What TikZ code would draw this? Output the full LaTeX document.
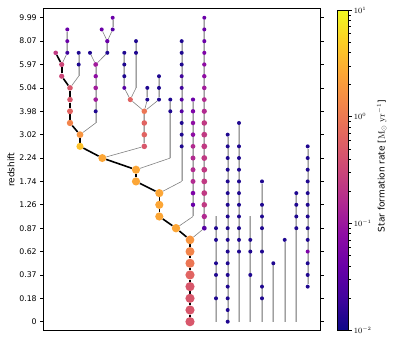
\documentclass[tikz,border=0pt]{standalone}
\usepackage[no-math]{fontspec}
\setmainfont{DejaVu Sans}
\usetikzlibrary{backgrounds}

\definecolor{pl05}{HTML}{1F0790}
\definecolor{pl10}{HTML}{41049D}
\definecolor{pl15}{HTML}{5601A4}
\definecolor{pl20}{HTML}{6A00A8}
\definecolor{pl25}{HTML}{7E03A8}
\definecolor{pl30}{HTML}{8F0DA4}
\definecolor{pl35}{HTML}{A11B9B}
\definecolor{pl40}{HTML}{B12A90}
\definecolor{pl45}{HTML}{C03A83}
\definecolor{pl50}{HTML}{CC4778}
\definecolor{pl55}{HTML}{D8576B}
\definecolor{pl60}{HTML}{E16462}
\definecolor{pl65}{HTML}{EB7655}
\definecolor{pl70}{HTML}{F2844B}
\definecolor{pl75}{HTML}{F89540}
\definecolor{pl80}{HTML}{FCA636}
\definecolor{pl88}{HTML}{FDC12A}

\pgfdeclareverticalshading{plasma}{100bp}{
  rgb(0bp)=(0.051,0.031,0.529); rgb(25bp)=(0.051,0.031,0.529);
  rgb(30bp)=(0.255,0.016,0.616); rgb(35bp)=(0.416,0,0.659);
  rgb(40bp)=(0.561,0.051,0.643); rgb(45bp)=(0.694,0.165,0.565);
  rgb(50bp)=(0.8,0.278,0.471); rgb(55bp)=(0.882,0.392,0.384);
  rgb(60bp)=(0.949,0.518,0.294); rgb(65bp)=(0.988,0.651,0.212);
  rgb(70bp)=(0.988,0.808,0.145); rgb(75bp)=(0.941,0.976,0.129);
  rgb(100bp)=(0.941,0.976,0.129)}

\tikzset{
  dot/.style={circle, inner sep=0pt, minimum size=#1bp},
  mainline/.style={line width=1.6bp, black},
  link/.style={line width=0.6bp, gray},
  trunk/.style={line width=2bp, gray!40, postaction={draw=gray!75, line width=0.4bp}},
  ticklbl/.style={font=\fontsize{7.8bp}{9bp}\selectfont},
  axislbl/.style={font=\fontsize{9bp}{10bp}\selectfont},
}

\begin{document}
\begin{tikzpicture}[x=1bp, y=11.69bp]
\useasboundingbox (0,-1.7365) rectangle (399,27.519);

\foreach \x/\k/\c/\d in {55.7/23/pl45/4.6, 61.7/22/pl50/5.2, 61.7/21/pl50/5.2, 70/20/pl55/5.6,
    70/19/pl55/5.6, 70/18/pl60/6, 70/17/pl70/6.4, 80/16/pl75/6.8, 80/15/pl88/7.2,
    102.3/14/pl80/8, 136/13/pl80/8.2, 136/12/pl80/8.2, 159.3/11/pl80/8.2, 159.3/10/pl80/8.2,
    159.3/9/pl80/8.2, 176/8/pl80/8.4, 190/7/pl75/8.8, 190/6/pl70/9, 190/5/pl65/9.2,
    190/4/pl60/9.2, 190/3/pl55/9.2, 190/2/pl55/9.2, 190/1/pl55/9.2, 190/0/pl55/9.2}
  \node[dot=\d, fill=\c] (m-\k) at (\x,\k) {};

\foreach \k/\c in {25/pl20, 24/pl20, 23/pl10}
  \node[dot=4, fill=\c] (a-\k) at (67.3,\k) {};
\foreach \k in {23,22}
  \node[dot=4, fill=pl05] (b-\k) at (78.7,\k) {};
\foreach \k/\c/\d in {22/pl35/4.8, 21/pl30/4.4, 20/pl35/4.6, 19/pl35/4.6, 18/pl05/4}
  \node[dot=\d, fill=\c] (p-\k) at (95.7,\k) {};
\node[dot=4, fill=pl05] (q-23) at (90,23) {};
\node[dot=4, fill=pl05] (r-23) at (107.3,23) {};
\node[dot=4.3, fill=pl20] (r-24) at (107.3,24) {};
\node[dot=4, fill=pl20] (s-25) at (101.7,25) {};
\node[dot=4, fill=pl15] (t-25) at (112.7,25) {};
\node[dot=4, fill=pl20] (t-26) at (112.7,26) {};

\foreach \k/\c in {18/pl65, 17/pl60, 16/pl60, 15/pl55}
  \node[dot=5.6, fill=\c] (c-\k) at (144.3,\k) {};
\node[dot=5.2, fill=pl60] (u-19) at (130.3,19) {};
\foreach \k/\c in {23/pl05, 22/pl05, 21/pl05, 20/pl15}
  \node[dot=4, fill=\c] (v-\k) at (124.3,\k) {};
\foreach \k in {24,23}
  \node[dot=4, fill=pl05] (w-\k) at (136,\k) {};
\foreach \k in {20,19}
  \node[dot=4, fill=pl05] (e1-\k) at (147.3,\k) {};
\foreach \k in {21,20,19}
  \node[dot=4, fill=pl05] (e2-\k) at (159,\k) {};

\foreach \k in {19,18}
  \node[dot=4, fill=pl05] (f1-\k) at (170.3,\k) {};
\foreach \k/\c in {24/pl05, 23/pl05, 22/pl05, 21/pl10, 20/pl10, 19/pl15, 18/pl15, 17/pl05,
    16/pl05, 15/pl05}
  \node[dot=4, fill=\c] (f2-\k) at (181.7,\k) {};
\foreach \k/\c/\d in {19/pl20/4.2, 18/pl25/4.4, 17/pl30/4.5, 16/pl30/4.6, 15/pl40/4.8,
    14/pl40/5, 13/pl40/5, 12/pl40/5, 11/pl25/4.6, 10/pl20/4.4}
  \node[dot=\d, fill=\c] (f3-\k) at (193,\k) {};
\foreach \k/\c/\d in {26/pl20/4, 25/pl20/4, 24/pl20/4.1, 23/pl25/4.1, 22/pl30/4.3,
    21/pl30/4.4, 20/pl35/4.6, 19/pl40/4.8, 18/pl40/5.2, 17/pl45/5.6, 16/pl45/5.8,
    15/pl45/5.8, 14/pl45/5.8, 13/pl45/5.8, 12/pl45/5.8, 11/pl45/5.8, 10/pl45/5.6,
    9/pl40/5.4, 8/pl15/4.8}
  \node[dot=\d, fill=\c] (f4-\k) at (204.3,\k) {};

\foreach \k in {8,7,5,4,2}
  \node[dot=4, fill=pl05] (i1-\k) at (216,\k) {};
\foreach \k in {16,15,...,0}
  \node[dot=4, fill=pl05] (i2-\k) at (227.7,\k) {};
\foreach \k in {17,15,14,13,12,11,10,9,8,7,6}
  \node[dot=4, fill=pl05] (i3-\k) at (239,\k) {};
\foreach \k in {7,6,4}
  \node[dot=4, fill=pl05] (i4-\k) at (250.3,\k) {};
\foreach \k in {12,10,9,8,6,3,2}
  \node[dot=4, fill=pl05] (i5-\k) at (262,\k) {};
\node[dot=4, fill=pl05] (i6-5) at (273.3,5) {};
\node[dot=4, fill=pl05] (i7-7) at (284.7,7) {};
\foreach \k in {11,10,9,8}
  \node[dot=4, fill=pl05] (i8-\k) at (296.3,\k) {};
\foreach \k/\c in {15/pl05, 14/pl05, 13/pl05, 12/pl05, 11/pl05, 10/pl05, 9/pl05, 8/pl05,
    7/pl05, 6/pl25, 5/pl05, 4/pl05, 3/pl05}
  \node[dot=4, fill=\c] (i9-\k) at (307.7,\k) {};

\coordinate (b-c) at (78.7,21);
\coordinate (p-c) at (95.7,17);
\coordinate (w-c) at (136,20);
\coordinate (f1-c) at (170.3,14);
\coordinate (f2-c) at (181.7,12);
\coordinate (f3-c) at (193,9);
\coordinate (i1-top) at (216,9);
\coordinate (i4-top) at (250.3,9);
\foreach \n/\x in {i1/216, i3/239, i4/250.3, i5/262, i6/273.3, i7/284.7, i8/296.3}
  \coordinate (\n-end) at (\x,0);

\begin{pgfonlayer}{background}
\foreach \k [remember=\k as \j (initially 23)] in {22,21,...,0}
  \draw[mainline] (m-\j) -- (m-\k);
\draw[trunk] (a-25) -- (a-23);
\draw[link] (a-23) -- (m-22);
\draw[trunk] (b-23) -- (b-c);
\draw[link] (b-c) -- (m-20);
\draw[trunk] (p-22) -- (p-c);
\draw[link] (p-c) -- (m-16);
\draw[link] (q-23) -- (p-22);
\draw[link] (r-23) -- (p-22);
\draw[trunk] (r-24) -- (r-23);
\draw[link] (s-25) -- (r-24);
\draw[link] (t-25) -- (r-24);
\draw[trunk] (t-26) -- (t-25);
\draw[trunk] (c-18) -- (c-15);
\draw[link] (c-15) -- (m-14);
\draw[link] (u-19) -- (c-18);
\draw[trunk] (v-23) -- (v-20);
\draw[link] (v-20) -- (u-19);
\draw[trunk] (w-24) -- (w-c);
\draw[link] (w-c) -- (u-19);
\draw[trunk] (e1-20) -- (e1-19);
\draw[link] (e1-19) -- (c-18);
\draw[trunk] (e2-21) -- (e2-19);
\draw[link] (e2-19) -- (c-18);
\draw[trunk] (f1-19) -- (f1-c);
\draw[link] (f1-c) -- (m-13);
\draw[trunk] (f2-24) -- (f2-c);
\draw[link] (f2-c) -- (m-11);
\draw[trunk] (f3-19) -- (f3-c);
\draw[link] (f3-c) -- (m-8);
\draw[trunk] (f4-26) -- (f4-8);
\draw[link] (f4-8) -- (m-7);
\draw[trunk] (i1-top) -- (i1-end);
\draw[trunk] (i2-16) -- (i2-0);
\draw[trunk] (i3-17) -- (i3-end);
\draw[trunk] (i4-top) -- (i4-end);
\draw[trunk] (i5-12) -- (i5-end);
\draw[trunk] (i6-5) -- (i6-end);
\draw[trunk] (i7-7) -- (i7-end);
\draw[trunk] (i8-11) -- (i8-end);
\draw[trunk] (i9-15) -- (i9-3);
\end{pgfonlayer}

\draw[line width=0.6bp] (43,-0.71) rectangle (320,26.83);
\foreach \k/\z in {0/0, 2/0.18, 4/0.37, 6/0.62, 8/0.87, 10/1.26, 12/1.74, 14/2.24,
    16/3.02, 18/3.98, 20/5.04, 22/5.97, 24/8.07, 26/9.99} {
  \draw[line width=0.6bp] (43,\k) -- (39.5,\k) node[ticklbl, left, inner sep=2.5bp] {\z};
  \draw[line width=0.6bp] (320,\k) -- (323.5,\k);
}
\node[axislbl, rotate=90] (ylabel) at (11,13) {redshift};

\shade[shading=plasma] (337.5,-0.71) rectangle (348.5,26.66);
\draw[line width=0.6bp] (337.5,-0.71) rectangle (348.5,26.66);
\foreach \d/\e in {0/-2, 1/-1, 2/0, 3/1}
  \draw[line width=0.6bp] (348.5,{-0.71+9.123*\d}) -- ++(3.5,0)
    node[ticklbl, right, inner sep=1.5bp] {$10^{\e}$};
\foreach \d in {0,1,2}
  \foreach \n in {2,...,9}
    \draw[line width=0.5bp] (348.5,{-0.71+9.123*(\d+log10(\n))}) -- ++(2,0);
\node[axislbl, rotate=90] (cblabel) at (381.7,13.3) {Star formation rate [$\mathrm{M_\odot\ yr^{-1}}$]};
\end{tikzpicture}
\end{document}
